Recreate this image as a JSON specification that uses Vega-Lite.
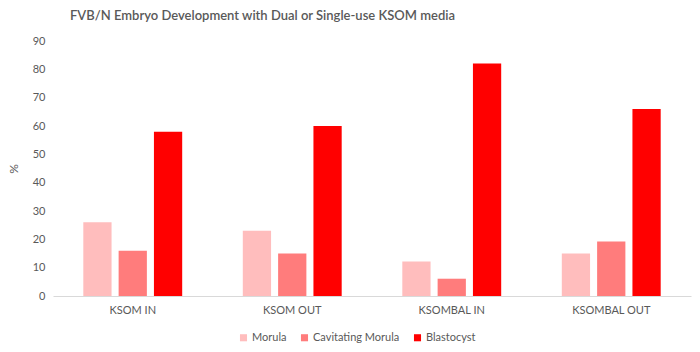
{
  "$schema": "https://vega.github.io/schema/vega-lite/v6.json",
  "autosize": {"type": "none"},
  "width": 638,
  "height": 255,
  "padding": {"left": 53, "top": 41, "right": 9, "bottom": 56},
  "background": "white",
  "title": {
    "text": "FVB/N Embryo Development with Dual or Single-use KSOM media",
    "anchor": "start",
    "frame": "group",
    "dx": 17,
    "offset": 12,
    "font": "Lato",
    "fontSize": 13,
    "fontWeight": 600,
    "color": "#595959"
  },
  "config": {
    "view": {"stroke": null},
    "font": "Lato"
  },
  "data": {
    "values": [
      {"group": "KSOM IN", "stage": "Morula", "pct": 26},
      {"group": "KSOM IN", "stage": "Cavitating Morula", "pct": 16},
      {"group": "KSOM IN", "stage": "Blastocyst", "pct": 58},
      {"group": "KSOM OUT", "stage": "Morula", "pct": 23},
      {"group": "KSOM OUT", "stage": "Cavitating Morula", "pct": 15},
      {"group": "KSOM OUT", "stage": "Blastocyst", "pct": 60},
      {"group": "KSOMBAL IN", "stage": "Morula", "pct": 12.2},
      {"group": "KSOMBAL IN", "stage": "Cavitating Morula", "pct": 6.1},
      {"group": "KSOMBAL IN", "stage": "Blastocyst", "pct": 82.1},
      {"group": "KSOMBAL OUT", "stage": "Morula", "pct": 15},
      {"group": "KSOMBAL OUT", "stage": "Cavitating Morula", "pct": 19.2},
      {"group": "KSOMBAL OUT", "stage": "Blastocyst", "pct": 66}
    ]
  },
  "mark": {"type": "bar"},
  "encoding": {
    "x": {
      "field": "group",
      "type": "nominal",
      "sort": ["KSOM IN", "KSOM OUT", "KSOMBAL IN", "KSOMBAL OUT"],
      "scale": {"paddingInner": 0.38, "paddingOuter": 0.19},
      "axis": {
        "title": null,
        "labelAngle": 0,
        "ticks": false,
        "domainColor": "#D9D9D9",
        "domainWidth": 1,
        "labelColor": "#595959",
        "labelFontSize": 11,
        "labelPadding": 8
      }
    },
    "xOffset": {
      "field": "stage",
      "type": "nominal",
      "sort": ["Morula", "Cavitating Morula", "Blastocyst"],
      "scale": {"paddingInner": 0.2, "paddingOuter": 0}
    },
    "y": {
      "field": "pct",
      "type": "quantitative",
      "scale": {"domain": [0, 90], "nice": false},
      "axis": {
        "title": "%",
        "titleColor": "#595959",
        "titleFontSize": 12,
        "titleFontWeight": "normal",
        "titlePadding": 12,
        "values": [0, 10, 20, 30, 40, 50, 60, 70, 80, 90],
        "grid": false,
        "domain": false,
        "ticks": false,
        "labelColor": "#595959",
        "labelFontSize": 11,
        "labelPadding": 8
      }
    },
    "color": {
      "field": "stage",
      "type": "nominal",
      "sort": ["Morula", "Cavitating Morula", "Blastocyst"],
      "scale": {
        "domain": ["Morula", "Cavitating Morula", "Blastocyst"],
        "range": ["#FFBDBD", "#FF7C7C", "#FF0000"]
      },
      "legend": {
        "title": null,
        "orient": "none",
        "direction": "horizontal",
        "legendX": 185,
        "legendY": 291,
        "symbolType": "square",
        "symbolSize": 50,
        "symbolStrokeWidth": 0,
        "labelColor": "#595959",
        "labelFontSize": 11,
        "labelOffset": 3,
        "columnPadding": 12
      }
    }
  }
}
